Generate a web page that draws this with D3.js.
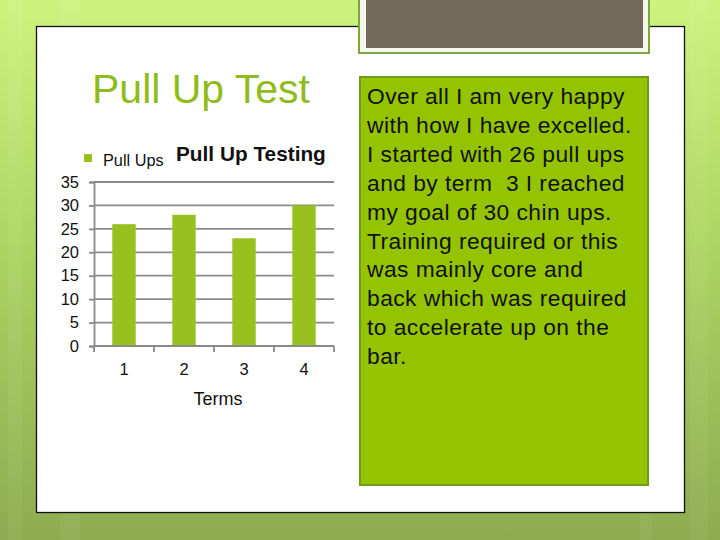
<!DOCTYPE html>
<html><head><meta charset="utf-8">
<script src="https://cdn.jsdelivr.net/npm/d3@7"></script>
<style>html,body{margin:0;padding:0;overflow:hidden;background:#fff}svg{display:block}text{white-space:pre}</style>
</head><body>
<svg id="c" width="720" height="540"></svg>
<script>
const categories = ["1","2","3","4"];
const pullUps = [26, 28, 23, 30];
const yTicks = [0,5,10,15,20,25,30,35];
const seriesName = "Pull Ups";
const chartTitle = "Pull Up Testing";
const xAxisTitle = "Terms";
const slideTitle = "Pull Up Test";
const noteLines = [
  "Over all I am very happy",
  "with how I have excelled.",
  "I started with 26 pull ups",
  "and by term  3 I reached",
  "my goal of 30 chin ups.",
  "Training required or this",
  "was mainly core and",
  "back which was required",
  "to accelerate up on the",
  "bar."
];

const FONT = "Liberation Sans, Arial, sans-serif";
const svg = d3.select("#c");
const defs = svg.append("defs");
const bg = defs.append("linearGradient").attr("id","bg").attr("x1",0).attr("y1",0).attr("x2",0).attr("y2",1);
bg.append("stop").attr("offset","0%").attr("stop-color","#cdf37f");
bg.append("stop").attr("offset","45%").attr("stop-color","#acd563");
bg.append("stop").attr("offset","100%").attr("stop-color","#8dac50");
svg.append("rect").attr("width",720).attr("height",540).attr("fill","url(#bg)");
const stripes = [[8,14],[60,20],[640,12],[690,18]];
svg.selectAll("rect.st").data(stripes).join("rect").attr("class","st")
  .attr("x",d=>d[0]).attr("width",d=>d[1]).attr("y",0).attr("height",540)
  .attr("fill","#ffffff").attr("opacity",0.05);

// white panel
svg.append("rect").attr("x",36.5).attr("y",26.5).attr("width",648).attr("height",486)
  .attr("fill","#ffffff").attr("stroke","#111").attr("stroke-width",1.3);

// grey box top right
svg.append("rect").attr("x",359).attr("y",-4).attr("width",290).attr("height",57)
  .attr("fill","#f4f7ee").attr("stroke","#7fa43a").attr("stroke-width",2);
svg.append("rect").attr("x",366).attr("y",-4).attr("width",277).attr("height",52)
  .attr("fill","#726a5a");

// green note box
svg.append("rect").attr("x",360).attr("y",77).attr("width",288).attr("height",408)
  .attr("fill","#94c400").attr("stroke","#6f9a1c").attr("stroke-width",2);
svg.append("g").selectAll("text").data(noteLines).join("text")
  .attr("x",367).attr("y",(d,i)=>104+i*28.9)
  .attr("font-family",FONT).attr("font-size",22.8).attr("letter-spacing",0.45)
  .attr("fill","#111").text(d=>d);

// slide title
svg.append("text").attr("x",201).attr("y",103).attr("text-anchor","middle")
  .attr("font-family",FONT).attr("font-size",41)
  .attr("fill","#8fbc1a").text(slideTitle);

// chart
const x = d3.scaleBand().domain(categories).range([94,334]).paddingInner(0.61).paddingOuter(0.305);
const xb = d3.scaleBand().domain(categories).range([94,334]);
const y = d3.scaleLinear().domain([0,35]).range([346,182]);
const g = svg.append("g");
const gridColor = "#8a8a8a";
g.selectAll("line.grid").data(yTicks.filter(t=>t>0)).join("line").attr("class","grid")
  .attr("x1",94).attr("x2",334).attr("y1",d=>y(d)).attr("y2",d=>y(d))
  .attr("stroke",gridColor).attr("stroke-width",1.8);

g.selectAll("rect.bar").data(pullUps).join("rect").attr("class","bar")
  .attr("x",(d,i)=>x(categories[i])).attr("width",x.bandwidth())
  .attr("y",d=>y(d)).attr("height",d=>y(0)-y(d)).attr("fill","#96c11f");

const yAxis = d3.axisLeft(y).tickValues(yTicks).tickSize(5).tickPadding(10);
const ya = g.append("g").attr("transform","translate(94,0)").call(yAxis);
ya.select(".domain").attr("stroke",gridColor).attr("stroke-width",1.8);
ya.selectAll(".tick line").attr("stroke",gridColor).attr("stroke-width",1.8);
ya.selectAll(".tick text").attr("font-family",FONT).attr("font-size",16.5).attr("fill","#111");

const xa = g.append("g").attr("transform","translate(0,346)");
xa.append("line").attr("x1",94).attr("x2",334).attr("stroke",gridColor).attr("stroke-width",1.8);
const bounds = categories.map(c=>xb(c)).concat([xb(categories[3])+xb.bandwidth()]);
xa.selectAll("line.tk").data(bounds).join("line").attr("class","tk")
  .attr("x1",d=>d).attr("x2",d=>d).attr("y1",0).attr("y2",6)
  .attr("stroke",gridColor).attr("stroke-width",1.8);
xa.selectAll("text").data(categories).join("text")
  .attr("x",d=>xb(d)+xb.bandwidth()/2).attr("y",29).attr("text-anchor","middle")
  .attr("font-family",FONT).attr("font-size",16.5).attr("fill","#111").text(d=>d);

svg.append("text").attr("x",218).attr("y",405).attr("text-anchor","middle")
  .attr("font-family",FONT).attr("font-size",18).attr("fill","#111").text(xAxisTitle);

// legend
svg.append("rect").attr("x",84).attr("y",154).attr("width",8).attr("height",8).attr("fill","#96c11f");
svg.append("text").attr("x",103).attr("y",166).attr("font-family",FONT)
  .attr("font-size",16.3).attr("fill","#111").text(seriesName);
svg.append("text").attr("x",176).attr("y",161).attr("font-family",FONT)
  .attr("font-size",20.8).attr("font-weight","bold").attr("fill","#111").text(chartTitle);
</script>
</body></html>
